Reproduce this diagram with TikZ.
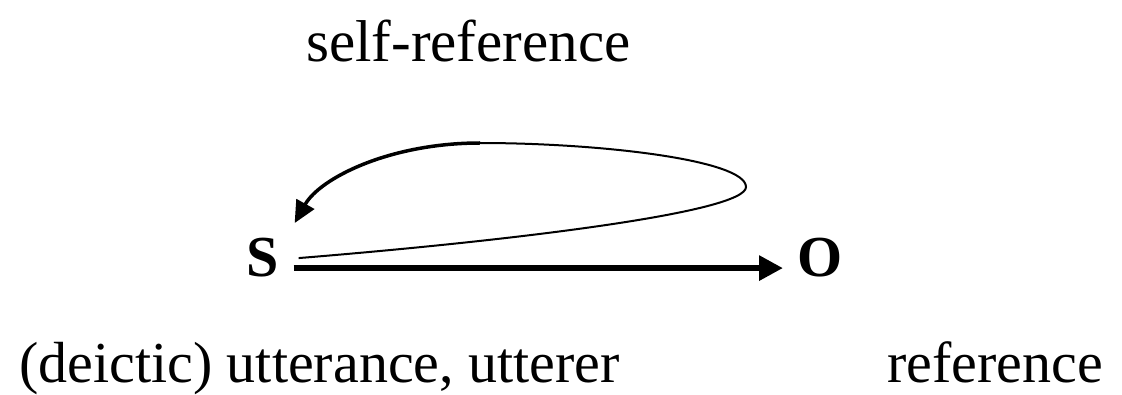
\documentclass[tikz,border=0pt]{standalone}
\usepackage{fontspec}
\setmainfont{Liberation Serif}
\usetikzlibrary{arrows.meta}
\begin{document}
\begin{tikzpicture}[x=1pt,y=-1pt,
  lbl/.style={inner sep=0pt,anchor=base west,font=\fontsize{59}{62}\selectfont},
  lowlbl/.style={lbl,font=\fontsize{58}{62}\selectfont},
  letter/.style={inner sep=0pt,anchor=base west,font=\fontsize{58}{62}\selectfont\bfseries},
  mainarrow/.style={line width=6.5pt,-{Triangle[length=24pt,width=24pt]}},
  loopline/.style={line width=2pt},
  looparrow/.style={line width=3.5pt,-{Triangle[length=22pt,width=20pt]}}]
\useasboundingbox (0,0) rectangle (1122,395);
\node[lbl] (top) at (306,62) {self-reference};
\node[letter] (S) at (246,277) {S};
\node[letter] (O) at (797,277) {O};
\node[lowlbl] (bl) at (19,382) {(deictic) utterance, utterer};
\node[lowlbl] (br) at (887,382) {reference};
\coordinate (turn) at (746,187);
\coordinate (peak) at (480,143);
\draw[mainarrow] ([xshift=15pt,yshift=-10pt]S.east) -- ([xshift=-14pt,yshift=-10pt]O.west);
\draw[loopline] ([xshift=20pt,yshift=0pt]S.east) .. controls (520,240) and (746,212) .. (turn)
  .. controls (746,160) and (600,143) .. (peak);
\draw[looparrow] (peak) .. controls (390,143) and (320,178) .. ([xshift=16pt,yshift=35pt]S.east);
\end{tikzpicture}
\end{document}
